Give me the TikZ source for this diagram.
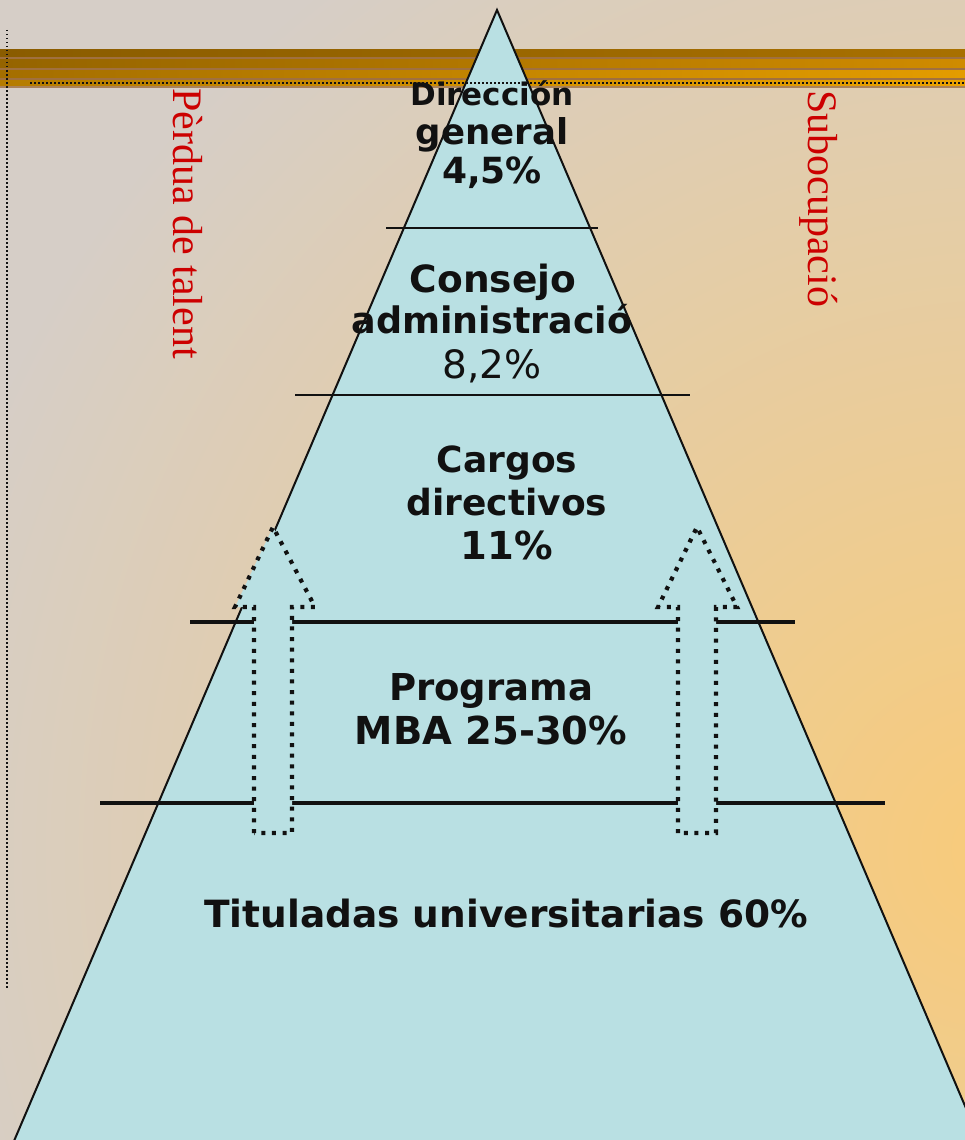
\documentclass[tikz,border=0pt]{standalone}
\usepackage{fontspec}
\setmainfont{DejaVu Sans}
\newfontfamily\sidefont{Liberation Serif}
\usepackage{tikz}
\usetikzlibrary{positioning}
\definecolor{Ink}{HTML}{111111}
\definecolor{BgGray}{HTML}{D6CEC7}
\definecolor{BgOrange}{HTML}{F8CB7A}
\definecolor{Pyramid}{HTML}{B9E0E3}
\definecolor{SideRed}{HTML}{CC0000}
\definecolor{BarDarkA}{HTML}{8A5C00}
\definecolor{BarDarkB}{HTML}{A87000}
\definecolor{BarMidA}{HTML}{956400}
\definecolor{BarMidB}{HTML}{CF8B00}
\definecolor{BarLowA}{HTML}{A46E00}
\definecolor{BarLowB}{HTML}{E39C00}
\definecolor{BarBotA}{HTML}{B57C00}
\definecolor{BarBotB}{HTML}{EBA200}
\definecolor{BarRule}{HTML}{A0703F}

\begin{document}
\begin{tikzpicture}[
  x=1pt, y=-1pt,
  lvl/.style={font=\fontsize{#1}{#1}\selectfont\bfseries, text=Ink, inner sep=0pt, anchor=base},
  lvl/.default=36,
  lvlplain/.style={lvl, font=\fontsize{39}{39}\selectfont},
  sidetext/.style={font=\fontsize{42}{50}\selectfont\sidefont, text=SideRed, inner sep=0pt, rotate=-90, anchor=base west},
  thinsep/.style={draw=Ink, line width=1.4pt},
  thicksep/.style={draw=Ink, line width=4pt},
  blockarrow/.style={draw=Ink, fill=Pyramid, line width=4.2pt, dash pattern=on 4pt off 6.6pt, line join=miter},
  barrule/.style={fill=BarRule}
]
\useasboundingbox (0,0) rectangle (965,1140);

% background
\begin{scope}
  \clip (0,0) rectangle (965,1140);
  \fill[BgGray] (0,0) rectangle (965,1140);
  \shade[inner color=BgOrange, outer color=BgGray] (1000,850) circle (1100pt);
\end{scope}

% title bar
\shade[left color=BarDarkA, right color=BarDarkB] (0,50) rectangle (965,57);
\shade[left color=BarMidA, right color=BarMidB] (0,59) rectangle (965,68);
\shade[left color=BarLowA, right color=BarLowB] (0,70) rectangle (965,78);
\shade[left color=BarBotA, right color=BarBotB] (0,80) rectangle (965,86);
\fill[barrule] (0,57) rectangle (965,59);
\fill[barrule] (0,68) rectangle (965,70);
\fill[barrule] (0,78) rectangle (965,80);
\fill[BarRule!80!BgGray] (0,86) rectangle (965,88);

% pyramid
\begin{scope}
  \clip (0,0) rectangle (965,1140);
  \draw[Ink, fill=Pyramid, line width=2pt, line join=miter] (497,10) -- (980,1141) -- (14,1141) -- cycle;
\end{scope}

\draw[Ink, line width=1.5pt, dash pattern=on 1.5pt off 2.5pt] (30,83) -- (965,83);
\draw[Ink, line width=1.5pt, dash pattern=on 1.5pt off 2.5pt] (7,30) -- (7,990);

% level rules
\draw[thinsep] (386,228) -- (598,228);
\draw[thinsep] (295,395) -- (690,395);
\draw[thicksep] (190,622) -- (795,622);
\draw[thicksep] (100,803) -- (885,803);

% promotion arrows
\draw[blockarrow] (254,833) -- (254,607) -- (235,607) -- (273,527) -- (315,607) -- (292,607) -- (292,833) -- cycle;
\draw[blockarrow] (678,833) -- (678,607) -- (658,607) -- (697,527) -- (737,607) -- (716,607) -- (716,833) -- cycle;

% levels
\node[lvl=31] (dirA) at (492,105) {Dirección};
\node[lvl=35.5] (dirB) at (492,144) {general};
\node[lvl=36] (dirC) at (492,183) {4,5\%};

\node[lvl=37.5] (conA) at (493,292) {Consejo};
\node[lvl=36.5] (conB) at (492,333) {administració};
\node[lvlplain] (conC) at (492,378) {8,2\%};

\node[lvl] (carA) at (507,472) {Cargos};
\node[lvl] (carB) at (507,515) {directivos};
\node[lvl=38.5] (carC) at (507,559) {11\%};

\node[lvl=37] (mbaA) at (491,700) {Programa};
\node[lvl=38.5] (mbaB) at (491,744) {MBA 25-30\%};

\node[lvl=37.5] (tit) at (506,927) {Tituladas universitarias 60\%};

% side labels
\node[sidetext] (perdua) at (173,88) {Pèrdua de talent};
\node[sidetext] (subocup) at (808,90) {Subocupació};
\end{tikzpicture}
\end{document}
